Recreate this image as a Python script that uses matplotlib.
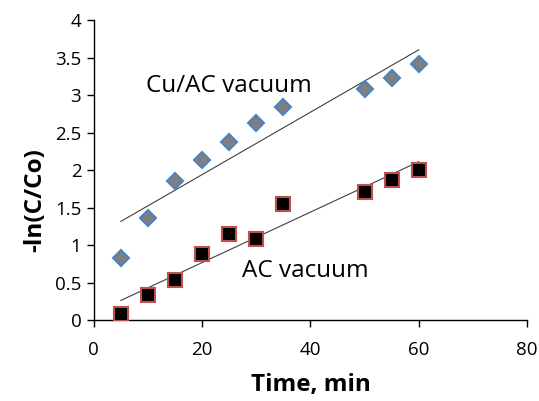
import numpy as np
import matplotlib
matplotlib.use("Agg")
from matplotlib import pyplot as plt

plt.rcParams['font.family'] = ['Open Sans', 'DejaVu Sans']

# reaction time, min
time_min = [5, 10, 15, 20, 25, 30, 35, 50, 55, 60]
# -ln(C/Co)
cu_ac = [0.83, 1.36, 1.85, 2.14, 2.38, 2.63, 2.84, 3.08, 3.23, 3.42]
ac = [0.08, 0.34, 0.53, 0.88, 1.15, 1.08, 1.55, 1.71, 1.87, 2.00]

x_ticks = [0, 20, 40, 60, 80]
y_ticks = [0, 0.5, 1, 1.5, 2, 2.5, 3, 3.5, 4]

fig = plt.figure(figsize=(5.39, 4.01), dpi=100)
ax = fig.add_axes([0.174, 0.202, 0.804, 0.748])

t = np.array(time_min)
for vals in (cu_ac, ac):
    k, b = np.polyfit(t, vals, 1)
    ax.plot([t.min(), t.max()], [k * t.min() + b, k * t.max() + b],
            color='#404040', lw=0.8, zorder=2)

ax.plot(time_min, cu_ac, ls='none', marker='D', ms=8,
        mfc='#7f7f7f', mec='#4f81bd', mew=1.5, zorder=3)
ax.plot(time_min, ac, ls='none', marker='s', ms=9.5,
        mfc='black', mec='#c0504d', mew=1.5, zorder=3)

ax.text(9.6, 3.12, "Cu/AC vacuum", fontsize=17.5, va='center', ha='left')
ax.text(27.4, 0.65, "AC vacuum", fontsize=17.5, va='center', ha='left')

ax.set_xlim(0, 80)
ax.set_ylim(0, 4)
ax.set_xticks(x_ticks)
ax.set_yticks(y_ticks)
ax.set_yticklabels([f"{v:g}" for v in y_ticks])
ax.tick_params(direction='out', length=5, width=1, labelsize=13.5, colors='black')
ax.tick_params(axis='x', pad=10)
ax.tick_params(axis='y', pad=4)
for s in ('top', 'right'):
    ax.spines[s].set_visible(False)
for s in ('left', 'bottom'):
    ax.spines[s].set_linewidth(1)

ax.set_xlabel("Time, min", fontsize=17.5, fontweight='bold')
ax.xaxis.set_label_coords(0.5, -0.178)
ax.set_ylabel("-ln(C/Co)", fontsize=17.5, fontweight='bold', va='center')
ax.yaxis.set_label_coords(-0.136, 0.4)

plt.savefig('out.png', dpi=100)
